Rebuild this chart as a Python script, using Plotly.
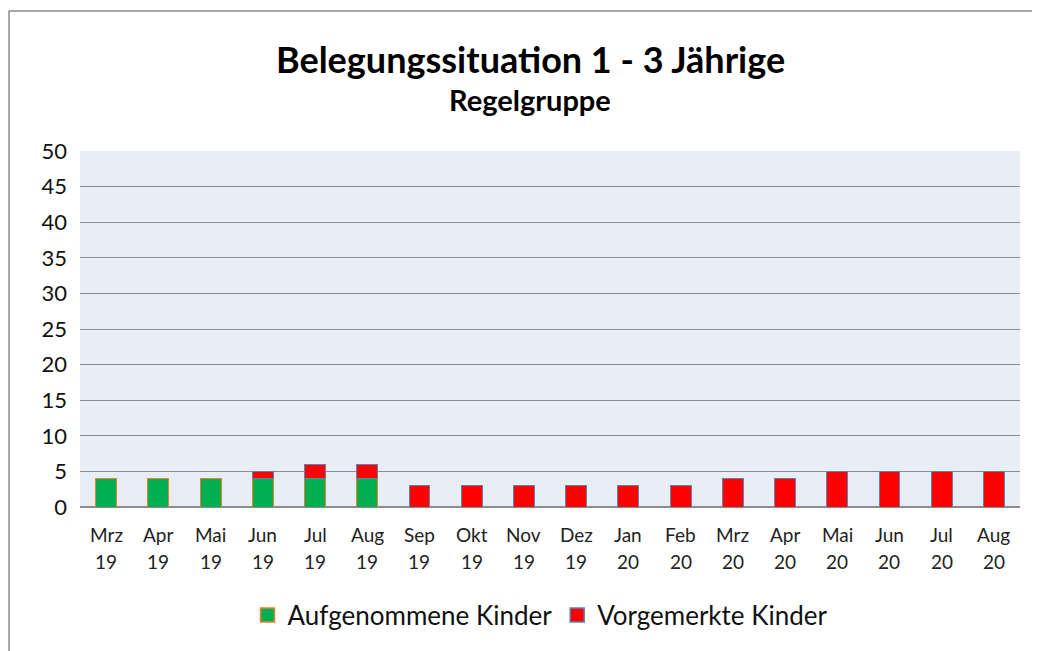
import plotly.graph_objects as go

months = ["Mrz", "Apr", "Mai", "Jun", "Jul", "Aug", "Sep", "Okt", "Nov", "Dez", "Jan", "Feb",
          "Mrz", "Apr", "Mai", "Jun", "Jul", "Aug"]
years = ["19"] * 10 + ["20"] * 8
aufgenommen = [4, 4, 4, 4, 4, 4, None, None, None, None, None, None, None, None, None, None, None, None]
vorgemerkt = [None, None, None, 1, 2, 2, 3, 3, 3, 3, 3, 3, 4, 4, 5, 5, 5, 5]
series_names = ["Aufgenommene Kinder", "Vorgemerkte Kinder"]

title_text = "Belegungssituation 1 - 3 Jährige"
subtitle_text = "Regelgruppe"

cats = [f"{m} {y}" for m, y in zip(months, years)]

FONT = "Lato"
GREEN, GREEN_EDGE = "#00B050", "#ED7D31"
RED, RED_EDGE = "#FF0000", "#5B84B1"

fig = go.Figure()
fig.add_trace(go.Bar(x=cats, y=aufgenommen, name=series_names[0], showlegend=False,
                     marker=dict(color=GREEN, line=dict(color=GREEN_EDGE, width=1))))
fig.add_trace(go.Bar(x=cats, y=vorgemerkt, name=series_names[1], showlegend=False,
                     marker=dict(color=RED, line=dict(color=RED_EDGE, width=1))))
# legend entries with larger square swatches
fig.add_trace(go.Scatter(x=[None], y=[None], mode="markers", name=series_names[0],
                         marker=dict(symbol="square", size=14, color=GREEN,
                                     line=dict(color=GREEN_EDGE, width=1.5))))
fig.add_trace(go.Scatter(x=[None], y=[None], mode="markers", name=series_names[1],
                         marker=dict(symbol="square", size=14, color=RED,
                                     line=dict(color=RED_EDGE, width=1.5))))

# page body has 8px margin; figure sized so plot area lands at screen x 80-1020, y 151-507
W, H = 1032, 643
L, R, T = 72, 20, 143
pw, ph = 940, 356
B = H - T - ph
bx = (1 - L) / pw
by = 1 + (T - 3) / ph
x_right = (W - L) / pw
y_bottom = -B / ph

annotations = []
annotations.append(dict(text=f"<b>{title_text}</b>", xref="paper", yref="paper",
                        x=(530 - 8 - L) / pw, y=1 + (T - 51) / ph, xanchor="center", yanchor="middle",
                        showarrow=False, font=dict(size=36, family=FONT, color="#000")))
annotations.append(dict(text=f"<b>{subtitle_text}</b>", xref="paper", yref="paper",
                        x=(530 - 8 - L) / pw, y=1 + (T - 91) / ph, xanchor="center", yanchor="middle",
                        showarrow=False, font=dict(size=29, family=FONT, color="#000")))
for c, m, y in zip(cats, months, years):
    annotations.append(dict(text=m, x=c, xref="x", yref="paper", y=0, yshift=-27,
                            xanchor="center", yanchor="middle", showarrow=False,
                            font=dict(size=19, family=FONT, color="#222")))
    annotations.append(dict(text=y, x=c, xref="x", yref="paper", y=0, yshift=-54,
                            xanchor="center", yanchor="middle", showarrow=False,
                            font=dict(size=19, family=FONT, color="#222")))

fig.update_layout(
    width=W, height=H,
    barmode="stack", bargap=0.6,
    margin=dict(l=L, r=R, t=T, b=B),
    paper_bgcolor="white", plot_bgcolor="#E9EDF5",
    font=dict(family=FONT, color="#000000"),
    xaxis=dict(showticklabels=False, showgrid=False, ticks="", showline=False),
    yaxis=dict(range=[0, 50], dtick=5, showgrid=True, gridcolor="#8C8C8C", gridwidth=1,
               tickfont=dict(size=22, family=FONT, color="#111"), ticks="",
               ticklabelstandoff=12, zeroline=True, zerolinecolor="#8C8C8C", zerolinewidth=1.5),
    legend=dict(orientation="h", x=(540 - 8) / W, xanchor="center", xref="container",
                y=1 - (615 - 8) / H, yref="container",
                yanchor="middle", font=dict(size=26, family=FONT, color="#111"),
                traceorder="normal", itemwidth=30),
    annotations=annotations,
    shapes=[
        dict(type="line", xref="paper", yref="paper", x0=bx, x1=bx, y0=y_bottom, y1=by,
             line=dict(color="#8A8A8A", width=1.5)),
        dict(type="line", xref="paper", yref="paper", x0=bx, x1=x_right, y0=by, y1=by,
             line=dict(color="#8A8A8A", width=1.5)),
    ],
)

fig.write_html("out.html", post_script=(
    "document.documentElement.style.overflow='hidden';"
    "document.body.style.overflow='hidden';"))
